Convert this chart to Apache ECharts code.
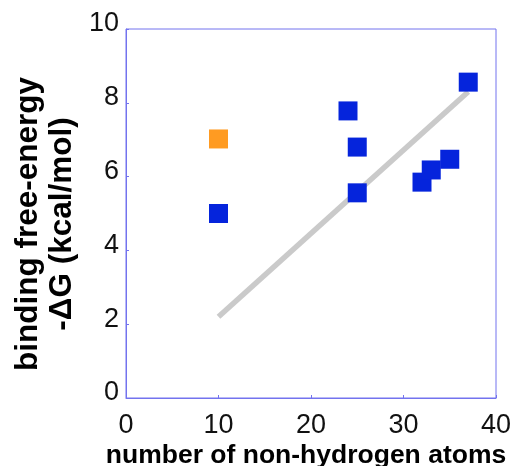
<!DOCTYPE html>
<html><head><meta charset="utf-8">
<script src="https://cdn.jsdelivr.net/npm/echarts@6/dist/echarts.min.js"></script>
<style>html,body{margin:0;padding:0;background:#fff}#c{width:514px;height:466px}</style>
</head><body><div id="c"></div>
<script>
const xTicks = [0, 10, 20, 30, 40];
const yTicks = [0, 2, 4, 6, 8, 10];
const blueAtoms = [10, 24, 25, 25, 32, 33, 35, 37];
const blueDG = [5.0, 7.78, 6.8, 5.56, 5.85, 6.18, 6.47, 8.56];
const orangeAtoms = [10];
const orangeDG = [7.02];
const fitAtoms = [10, 37];
const fitDG = [2.2, 8.3];
const xTitle = 'number of non-hydrogen atoms';
const yTitle = 'binding free-energy\n-ΔG (kcal/mol)';

const zip = (a, b) => a.map((v, i) => [v, b[i]]);
const axisColor = '#7373ee';
const chart = echarts.init(document.getElementById('c'));
chart.setOption({
  animation: false,
  grid: { left: 126, right: 18, top: 29, bottom: 68, show: true, borderColor: axisColor, borderWidth: 1,
          containLabel: false, outerBoundsMode: 'none' },
  graphic: [{
    type: 'text', x: 45, y: 224, rotation: Math.PI / 2,
    style: { text: yTitle, fontFamily: 'Liberation Sans', fontWeight: 'bold', fontSize: 31.5, lineHeight: 34,
             fill: '#000', align: 'center', verticalAlign: 'middle' }
  }, {
    type: 'text', x: 306, y: 456,
    style: { text: xTitle, fontFamily: 'Liberation Sans', fontWeight: 'bold', fontSize: 26.5,
             fill: '#000', align: 'center', verticalAlign: 'middle' }
  }],
  xAxis: {
    type: 'value', min: 0, max: 40, interval: 10,
    axisLine: { lineStyle: { color: axisColor } },
    axisTick: { inside: true, length: 3, lineStyle: { color: axisColor } },
    axisLabel: { fontFamily: 'Liberation Sans', fontSize: 27, color: '#111', margin: 14 },
    splitLine: { show: false }
  },
  yAxis: {
    type: 'value', min: 0, max: 10, interval: 2,
    axisLine: { lineStyle: { color: axisColor } },
    axisTick: { inside: true, length: 3, lineStyle: { color: axisColor } },
    axisLabel: { fontFamily: 'Liberation Sans', fontSize: 27, color: '#111', margin: 7, verticalAlign: 'bottom', lineHeight: 10 },
    splitLine: { show: false }
  },
  series: [
    { type: 'line', data: zip(fitAtoms, fitDG), symbol: 'none', lineStyle: { color: '#cacaca', width: 5.5 }, z: 1 },
    { type: 'scatter', data: zip(blueAtoms, blueDG), symbol: 'rect', symbolSize: 19, itemStyle: { color: '#0524dc', opacity: 1 }, z: 3 },
    { type: 'scatter', data: zip(orangeAtoms, orangeDG), symbol: 'rect', symbolSize: 19, itemStyle: { color: '#ff9b22', opacity: 1 }, z: 3 }
  ]
});
</script></body></html>
